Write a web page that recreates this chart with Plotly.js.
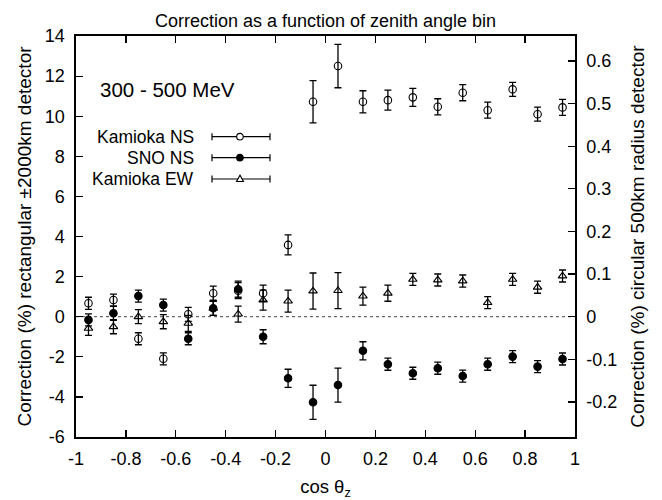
<!DOCTYPE html>
<html><head><meta charset="utf-8">
<script src="https://cdn.plot.ly/plotly-3.0.1.min.js"></script>
<style>body{margin:0;padding:0;background:#fff}#c{width:662px;height:500px}</style>
</head><body><div id="c"></div>
<script>
const cosTheta = [-0.95,-0.85,-0.75,-0.65,-0.55,-0.45,-0.35,-0.25,-0.15,-0.05,0.05,0.15,0.25,0.35,0.45,0.55,0.65,0.75,0.85,0.95];
const kamNS    = [0.67,0.83,-1.1,-2.1,0.12,1.17,1.3,1.17,3.58,10.72,12.5,10.72,10.8,10.94,10.47,11.17,10.3,11.34,10.1,10.44];
const kamNSerr = [0.3,0.3,0.3,0.3,0.35,0.35,0.4,0.4,0.5,1.05,1.08,0.55,0.5,0.45,0.4,0.4,0.4,0.35,0.35,0.4];
const snoNS    = [-0.16,0.17,1.03,0.58,-1.1,0.42,1.37,-1.0,-3.07,-4.27,-3.41,-1.7,-2.37,-2.82,-2.57,-2.96,-2.37,-1.99,-2.49,-2.11];
const snoNSerr = [0.3,0.35,0.3,0.3,0.3,0.35,0.4,0.35,0.45,0.85,0.85,0.45,0.3,0.3,0.3,0.3,0.3,0.3,0.3,0.3];
const kamEW    = [-0.58,-0.5,0.0,-0.25,-0.33,0.42,0.13,0.83,0.78,1.28,1.3,1.03,1.17,1.86,1.83,1.78,0.7,1.86,1.47,2.03];
const kamEWerr = [0.35,0.35,0.35,0.35,0.4,0.35,0.4,0.5,0.55,0.9,0.9,0.45,0.4,0.3,0.3,0.3,0.3,0.3,0.3,0.3];
const seriesNames = ["Kamioka NS","SNO NS","Kamioka EW"];
const xTickVals = [-1,-0.8,-0.6,-0.4,-0.2,0,0.2,0.4,0.6,0.8,1];
const xTickText = ["-1","-0.8","-0.6","-0.4","-0.2","0","0.2","0.4","0.6","0.8","1"];
const yTickVals = [-6,-4,-2,0,2,4,6,8,10,12,14];
const yTickText = ["-6","-4","-2","0","2","4","6","8","10","12","14"];
const y2TickVals = [-0.2,-0.1,0,0.1,0.2,0.3,0.4,0.5,0.6];
const y2TickText = ["-0.2","-0.1","0","0.1","0.2","0.3","0.4","0.5","0.6"];
const scaleRight = 0.04704;
const yRange = [-6,14];

const FONT = "Liberation Sans, Arial, sans-serif";
function errTrace(y, e, symbol, name){
  return {x: cosTheta, y: y, name: name, type:'scatter', mode:'markers', showlegend:false,
    marker:{symbol: symbol, size: 7.5, color:'#000', line:{color:'#000', width:1.1}},
    error_y:{type:'data', array:e, visible:true, color:'#000', thickness:1.3, width:3.5},
    cliponaxis:false};
}
const traces = [
  errTrace(kamNS, kamNSerr, 'circle-open', seriesNames[0]),
  errTrace(snoNS, snoNSerr, 'circle', seriesNames[1]),
  errTrace(kamEW, kamEWerr, 'triangle-up-open', seriesNames[2]),
  {x:[0], y:[0], yaxis:'y2', mode:'markers', marker:{opacity:0}, showlegend:false, hoverinfo:'skip'}
];

// plot area in pixels
const L=76, R=575, T=36, B=437;
const px = v => (v-L)/(R-L);
const py = v => (B-v)/(B-T);

const annotations = [];
const shapes = [
  {type:'line', xref:'paper', yref:'y', x0:0, x1:1, y0:0, y1:0, line:{color:'#444', width:1, dash:'dot'}, layer:'below'}
];
const legRows = [136.7,157.7,179];
const legSym = ['circle-open','circle','triangle'];
for(let i=0;i<3;i++){
  annotations.push({xref:'paper', yref:'paper', x:px(196), y:py(legRows[i]), xanchor:'right', yanchor:'middle',
    text: seriesNames[i], showarrow:false, font:{family:FONT, size:17.5, color:'#000'}});
  const yy = py(legRows[i]);
  shapes.push({type:'line', xref:'paper', yref:'paper', x0:px(212), x1:px(270), y0:yy, y1:yy, line:{color:'#000', width:1.2}});
  shapes.push({type:'line', xref:'paper', yref:'paper', x0:px(212), x1:px(212), y0:py(legRows[i]-3.5), y1:py(legRows[i]+3.5), line:{color:'#000', width:1.2}});
  shapes.push({type:'line', xref:'paper', yref:'paper', x0:px(270), x1:px(270), y0:py(legRows[i]-3.5), y1:py(legRows[i]+3.5), line:{color:'#000', width:1.2}});
  if(legSym[i]==='triangle'){
    shapes.push({type:'path', xref:'paper', yref:'paper', xsizemode:'pixel', ysizemode:'pixel', xanchor:px(240), yanchor:yy,
      path:'M -3.5 -2.5 L 3.5 -2.5 L 0 3.8 Z', fillcolor:'#fff', line:{color:'#000', width:1.1}});
  } else {
    shapes.push({type:'circle', xref:'paper', yref:'paper', xsizemode:'pixel', ysizemode:'pixel', xanchor:px(240), yanchor:yy,
      x0:-3.3, x1:3.3, y0:-3.3, y1:3.3, fillcolor: legSym[i]==='circle' ? '#000' : '#fff', line:{color:'#000', width:1.1}});
  }
}
annotations.push({xref:'paper', yref:'paper', x:px(98), y:py(89), xanchor:'left', yanchor:'middle',
  text:'300 - 500 MeV', showarrow:false, font:{family:FONT, size:20.5, color:'#000'}});

const axisCommon = {showline:true, linecolor:'#000', linewidth:1.6, ticks:'inside', ticklen:7, tickcolor:'#000', tickwidth:1.2,
  showgrid:false, zeroline:false, tickfont:{family:FONT, size:18, color:'#000'}};

const layout = {
  width:662, height:500, paper_bgcolor:'#fff', plot_bgcolor:'#fff',
  margin:{l:L, r:662-R, t:T, b:500-B},
  showlegend:false,
  title:{text:'Correction as a function of zenith angle bin', font:{family:FONT, size:18, color:'#000'},
    x:0.5, xref:'paper', y:1-21/500, yref:'container', yanchor:'middle'},
  xaxis: Object.assign({}, axisCommon, {range:[-1,1], tickvals:xTickVals, ticktext:xTickText, mirror:'ticks',
    ticklabelstandoff:5,
    title:{text:'cos θ<sub>z</sub>', font:{family:FONT, size:18.5, color:'#000'}, standoff:12}}),
  yaxis: Object.assign({}, axisCommon, {range:yRange, tickvals:yTickVals, ticktext:yTickText,
    ticklabelstandoff:6,
    title:{text:'Correction (%) rectangular ±2000km detector', font:{family:FONT, size:19, color:'#000'}, standoff:8}}),
  yaxis2: Object.assign({}, axisCommon, {range:[yRange[0]*scaleRight, yRange[1]*scaleRight], overlaying:'y', side:'right', anchor:'x',
    tickvals:y2TickVals, ticktext:y2TickText, ticklabelstandoff:6,
    title:{text:'Correction (%) circular 500km radius detector', font:{family:FONT, size:19, color:'#000'}, standoff:14}}),
  annotations: annotations, shapes: shapes
};
Plotly.newPlot('c', traces, layout, {displayModeBar:false, staticPlot:true});
</script></body></html>
